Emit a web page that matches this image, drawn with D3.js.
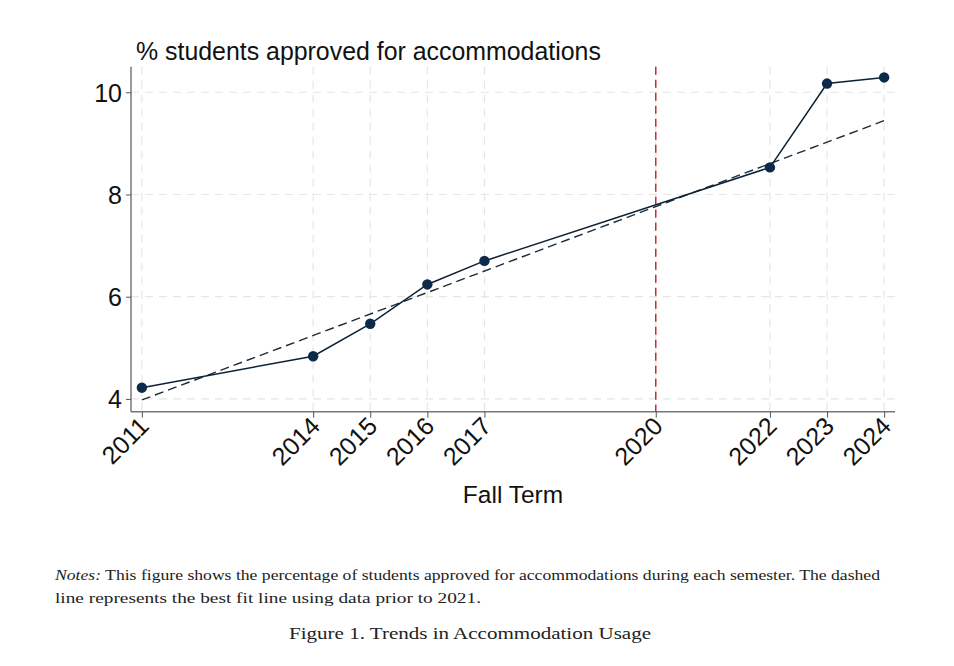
<!DOCTYPE html>
<html><head><meta charset="utf-8">
<script src="https://cdn.jsdelivr.net/npm/d3@7"></script>
<style>body{margin:0;background:#fff}</style>
</head><body>
<svg id="c" width="954" height="666"></svg>
<script>
const years = [2011, 2014, 2015, 2016, 2017, 2022, 2023, 2024];
const pctApproved = [4.22, 4.835, 5.47, 6.24, 6.70, 8.53, 10.17, 10.29];
const xTicks = [2011, 2014, 2015, 2016, 2017, 2020, 2022, 2023, 2024];
const yTicks = [4, 6, 8, 10];
const cutoffYear = 2020;
const fitBefore = 2021;

const svg = d3.select("#c");
const L = 131, R = 895, T = 66.7, B = 411.7;
const x = d3.scaleLinear().domain([2010.81, 2024.19]).range([L, R]);
const y = d3.scaleLinear().domain([3.75, 10.5]).range([B, T]);
const font = "Liberation Sans, Arial, sans-serif";

// fit using pre-2021 data
const pre = years.map((d,i)=>[d,pctApproved[i]]).filter(d=>d[0]<fitBefore);
const mx = d3.mean(pre,d=>d[0]), my = d3.mean(pre,d=>d[1]);
const slope = d3.sum(pre,d=>(d[0]-mx)*(d[1]-my))/d3.sum(pre,d=>(d[0]-mx)**2);
const fit = t => my + slope*(t-mx);

// grid
const g = svg.append("g");
g.selectAll(".vg").data(xTicks).join("line")
  .attr("x1",d=>x(d)).attr("x2",d=>x(d)).attr("y1",T).attr("y2",B)
  .attr("stroke","#e6e6e6").attr("stroke-width",1.2).attr("stroke-dasharray","8,6");
g.selectAll(".hg").data(yTicks).join("line")
  .attr("x1",L).attr("x2",R).attr("y1",d=>y(d)).attr("y2",d=>y(d))
  .attr("stroke","#e6e6e6").attr("stroke-width",1.2).attr("stroke-dasharray","8,6");

// axes
const yAxis = svg.append("g").attr("transform",`translate(${L},0)`)
  .call(d3.axisLeft(y).tickValues(yTicks).tickSize(5).tickPadding(4).tickFormat(d3.format("d")));
const xAxis = svg.append("g").attr("transform",`translate(0,${B})`)
  .call(d3.axisBottom(x).tickValues(xTicks).tickSize(6).tickFormat(d3.format("d")));
[yAxis,xAxis].forEach(a=>{
  a.attr("font-size",25).attr("font-family",font);
  a.select(".domain").attr("stroke","#777").attr("stroke-width",1.5);
  a.selectAll(".tick line").attr("stroke","#555").attr("stroke-width",1);
  a.selectAll("text").attr("fill","#111");
});
yAxis.selectAll("text").attr("dy","0.36em");
yAxis.select(".domain").attr("d",`M0,${B}V${T}`);
xAxis.select(".domain").attr("d",`M${L},0H${R}`);
xAxis.selectAll("text").attr("text-anchor","end").attr("dy",0).attr("y",0)
  .attr("transform","translate(8,16) rotate(-45)");

// red vertical
svg.append("line").attr("x1",x(cutoffYear)).attr("x2",x(cutoffYear)).attr("y1",T).attr("y2",B)
  .attr("stroke","#c62d35").attr("stroke-width",1.5).attr("stroke-dasharray","8,5");

// fit line
svg.append("line").attr("x1",x(years[0])).attr("x2",x(years[years.length-1]))
  .attr("y1",y(fit(years[0]))).attr("y2",y(fit(years[years.length-1])))
  .attr("stroke","#1c2b3a").attr("stroke-width",1.4).attr("stroke-dasharray","9,5");

// data line
const data = years.map((d,i)=>({yr:d,v:pctApproved[i]}));
svg.append("path").datum(data)
  .attr("d",d3.line().x(d=>x(d.yr)).y(d=>y(d.v)))
  .attr("fill","none").attr("stroke","#0d2236").attr("stroke-width",1.5);
svg.selectAll(".pt").data(data).join("circle")
  .attr("cx",d=>x(d.yr)).attr("cy",d=>y(d.v)).attr("r",5.2).attr("fill","#0d2a4a");

// titles
svg.append("text").attr("x",136).attr("y",60).attr("font-family",font).attr("font-size",24.9)
  .attr("fill","#111").text("% students approved for accommodations");
svg.append("text").attr("x",(L+R)/2).attr("y",503).attr("text-anchor","middle")
  .attr("font-family",font).attr("font-size",24.5).attr("fill","#111").text("Fall Term");

// notes
const serif = "Liberation Serif, Times New Roman, serif";
const n1 = svg.append("text").attr("x",55).attr("y",580).attr("font-family",serif).attr("font-size",14.5).attr("fill","#222")
  .attr("textLength",825).attr("lengthAdjust","spacingAndGlyphs");
n1.append("tspan").attr("font-style","italic").text("Notes:");
n1.append("tspan").text(" This figure shows the percentage of students approved for accommodations during each semester. The dashed");
svg.append("text").attr("x",55).attr("y",603).attr("font-family",serif).attr("font-size",14.5).attr("fill","#222")
  .attr("textLength",426).attr("lengthAdjust","spacingAndGlyphs")
  .text("line represents the best fit line using data prior to 2021.");
svg.append("text").attr("x",470).attr("y",639).attr("text-anchor","middle").attr("font-family",serif)
  .attr("font-size",17).attr("fill","#222").attr("textLength",362).attr("lengthAdjust","spacingAndGlyphs")
  .text("Figure 1. Trends in Accommodation Usage");
</script>
</body></html>
